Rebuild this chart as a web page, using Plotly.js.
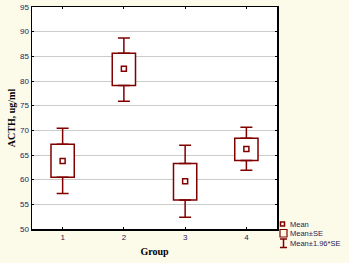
<!DOCTYPE html>
<html>
<head>
<meta charset="utf-8">
<script src="https://cdn.plot.ly/plotly-3.0.1.min.js"></script>
<style>
html,body{margin:0;padding:0;background:#fcfae9;}
#chart{width:349px;height:263px;}
</style>
</head>
<body>
<div id="chart"></div>
<script>
// Data
var groups = [1, 2, 3, 4];
var tickLabels = ['1', '2', '3', '4'];
var means = [63.8, 82.5, 59.7, 66.2];
var seUpper = [67.2, 85.6, 63.3, 68.4];
var seLower = [60.5, 79.1, 55.9, 63.9];
var ciUpper = [70.4, 88.7, 67.0, 70.6];
var ciLower = [57.2, 75.9, 52.4, 61.9];
var legendLabels = ['Mean', 'Mean\u00B1SE', 'Mean\u00B11.96*SE'];

var RED = '#800000';
var W = 349, H = 263;
var M = {l: 32, r: 72, t: 7, b: 34};
var PW = W - M.l - M.r, PH = H - M.t - M.b;
function px(x) { return (x - M.l) / PW; }
function py(y) { return (H - M.b - y) / PH; }

var boxTrace = {
  type: 'bar',
  x: groups,
  base: seLower,
  y: seUpper.map(function (v, i) { return v - seLower[i]; }),
  width: 0.38,
  marker: {color: '#ffffff', line: {color: RED, width: 1.5}},
  showlegend: false,
  hoverinfo: 'skip'
};
var whiskUp = {
  type: 'scatter', mode: 'markers',
  x: groups, y: seUpper,
  marker: {opacity: 0, size: 1},
  error_y: {type: 'data', symmetric: false,
    array: ciUpper.map(function (v, i) { return v - seUpper[i]; }),
    arrayminus: groups.map(function () { return 0; }),
    color: RED, thickness: 1.5, width: 6},
  showlegend: false, hoverinfo: 'skip'
};
var whiskDown = {
  type: 'scatter', mode: 'markers',
  x: groups, y: seLower,
  marker: {opacity: 0, size: 1},
  error_y: {type: 'data', symmetric: false,
    array: groups.map(function () { return 0; }),
    arrayminus: seLower.map(function (v, i) { return v - ciLower[i]; }),
    color: RED, thickness: 1.5, width: 6},
  showlegend: false, hoverinfo: 'skip'
};
var meanTrace = {
  type: 'scatter', mode: 'markers',
  x: groups, y: means,
  marker: {symbol: 'square-open', size: 5, color: RED, line: {width: 1.5, color: RED}},
  showlegend: false, hoverinfo: 'skip'
};

var tickFont = {family: 'Arial, Liberation Sans, sans-serif', size: 8, color: '#1c1c5a'};
var titleFont = {family: 'Liberation Serif, Times New Roman, serif', size: 10, color: '#000000', weight: 'bold'};

// Manual legend (decorations)
var shapes = [];
var annotations = [];
var legY = [224, 233, 243];
shapes.push({type: 'rect', xref: 'paper', yref: 'paper',
  x0: px(280.5), x1: px(284.5), y0: py(226), y1: py(222),
  line: {color: RED, width: 1.5}, fillcolor: 'rgba(0,0,0,0)'});
shapes.push({type: 'rect', xref: 'paper', yref: 'paper',
  x0: px(280), x1: px(287), y0: py(237), y1: py(229.5),
  line: {color: RED, width: 1.2}, fillcolor: 'rgba(0,0,0,0)'});
shapes.push({type: 'line', xref: 'paper', yref: 'paper',
  x0: px(283.5), x1: px(283.5), y0: py(239), y1: py(247.5), line: {color: RED, width: 1.5}});
shapes.push({type: 'line', xref: 'paper', yref: 'paper',
  x0: px(280), x1: px(287), y0: py(239), y1: py(239), line: {color: RED, width: 1.5}});
shapes.push({type: 'line', xref: 'paper', yref: 'paper',
  x0: px(280), x1: px(287), y0: py(247.5), y1: py(247.5), line: {color: RED, width: 1.5}});
for (var i = 0; i < legendLabels.length; i++) {
  annotations.push({xref: 'paper', yref: 'paper', x: px(288), y: py(legY[i]),
    xanchor: 'left', yanchor: 'middle', showarrow: false, text: legendLabels[i],
    font: {family: 'Arial, Liberation Sans, sans-serif', size: 7.5, color: '#1c1c5a'}});
}

var layout = {
  width: W, height: H,
  margin: M,
  paper_bgcolor: '#fcfae9',
  plot_bgcolor: '#ffffff',
  showlegend: false,
  hovermode: false,
  barmode: 'overlay',
  xaxis: {
    range: [0.5, 4.5], tickvals: groups, ticktext: tickLabels,
    showgrid: false, zeroline: false,
    showline: true, linecolor: '#000000', linewidth: 1.5, mirror: 'ticks',
    ticks: 'inside', ticklen: 2, tickcolor: '#000000',
    tickfont: tickFont,
    title: {text: 'Group', font: titleFont, standoff: 7}
  },
  yaxis: {
    range: [50, 95], dtick: 5, tick0: 50,
    showgrid: true, gridcolor: '#c8cdc8', gridwidth: 1, zeroline: false,
    showline: true, linecolor: '#000000', linewidth: 1.5, mirror: 'ticks',
    ticks: 'inside', ticklen: 2, tickcolor: '#000000',
    tickfont: tickFont,
    title: {text: 'ACTH, ug/ml', font: titleFont, standoff: 2}
  },
  shapes: shapes,
  annotations: annotations
};

Plotly.newPlot('chart', [boxTrace, whiskUp, whiskDown, meanTrace], layout, {displayModeBar: false, staticPlot: true});
</script>
</body>
</html>
